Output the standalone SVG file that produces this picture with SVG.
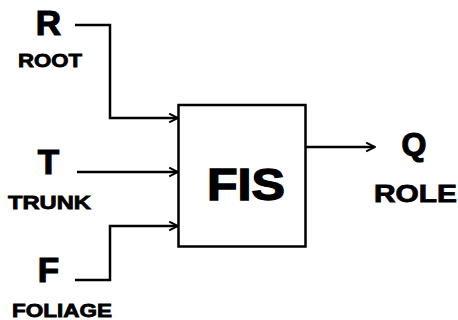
<svg xmlns="http://www.w3.org/2000/svg" width="458" height="320" viewBox="0 0 458 320">
<defs>
<style>
text{font-family:"Liberation Sans",Arial,sans-serif;font-weight:bold;fill:#000;stroke:#000;stroke-width:0.8}
.big{font-size:35px;text-anchor:middle;stroke-width:1.2}
.lbl{font-size:19px}
.wire{fill:none;stroke:#000;stroke-width:2.5}
</style>
<marker id="arr" viewBox="0 0 10 10" refX="9" refY="5" markerWidth="11" markerHeight="11" markerUnits="userSpaceOnUse" orient="auto">
<path d="M1,1 L9,5 L1,9" fill="none" stroke="#000" stroke-width="1.8"/>
</marker>
</defs>
<rect width="458" height="320" fill="#fff"/>
<g id="connectors">
<path class="wire" d="M75,25 H110 V118 H178" marker-end="url(#arr)"/>
<path class="wire" d="M77,172 H178" marker-end="url(#arr)"/>
<path class="wire" d="M75,280 H110 V226 H178" marker-end="url(#arr)"/>
<path class="wire" d="M305,147 H375" marker-end="url(#arr)"/>
</g>
<g id="fis">
<rect x="178.5" y="105" width="127" height="141.5" fill="#fff" stroke="#000" stroke-width="2.5"/>
<text x="207" y="200" font-size="45" textLength="78" lengthAdjust="spacingAndGlyphs" style="stroke-width:1.4">FIS</text>
</g>
<g id="R">
<text class="big" x="48.5" y="35">R</text>
<text class="lbl" x="18" y="67" textLength="64" lengthAdjust="spacingAndGlyphs">ROOT</text>
</g>
<g id="T">
<text class="big" x="48.5" y="174">T</text>
<text class="lbl" x="8" y="209" textLength="83" lengthAdjust="spacingAndGlyphs">TRUNK</text>
</g>
<g id="F">
<text class="big" x="48.5" y="282">F</text>
<text class="lbl" x="12" y="317" textLength="100" lengthAdjust="spacingAndGlyphs">FOLIAGE</text>
</g>
<g id="Q">
<text class="big" x="414" y="155" style="font-size:32px">Q</text>
<text x="374" y="202" font-size="23" textLength="83" lengthAdjust="spacingAndGlyphs">ROLE</text>
</g>
</svg>
